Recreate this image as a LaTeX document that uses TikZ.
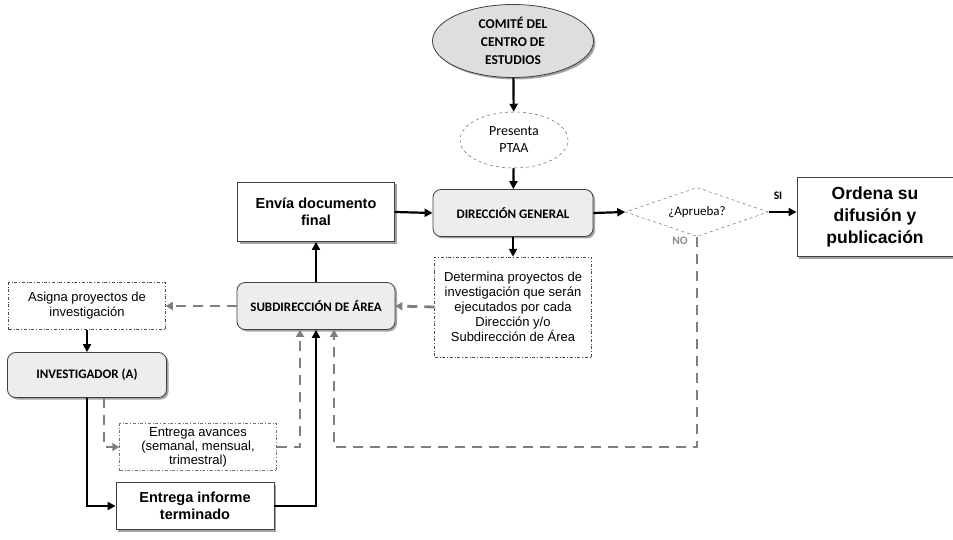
\documentclass[tikz,border=0pt]{standalone}
\usepackage{fontspec}
\setmainfont{Liberation Sans}
\newfontfamily\calfont{Carlito}
\usetikzlibrary{shapes.geometric,arrows.meta,shadows}
\definecolor{dgray}{HTML}{7F7F7F}
\begin{document}
\begin{tikzpicture}[x=1pt,y=-1pt,
  shad/.style={drop shadow={shadow xshift=2pt,shadow yshift=-2pt,fill=black!45,opacity=0.8}},
  rbox/.style={draw=black!75,line width=0.8pt,rounded corners=8pt,fill=black!7,shad,align=center,font=\calfont\bfseries\fontsize{13}{15}\selectfont,inner sep=0pt},
  sbox/.style={draw=black!75,line width=0.8pt,fill=white,shad,align=center,font=\bfseries\fontsize{14.5}{17}\selectfont,inner sep=0pt},
  dbox/.style={draw=black!70,line width=0.5pt,dash dot,fill=white,align=center,font=\fontsize{13}{15}\selectfont,inner sep=0pt},
  barr/.style={line width=2.2pt,-{Triangle[length=8pt,width=8pt]}},
  garr/.style={line width=2.8pt,draw=dgray,dash pattern=on 10pt off 7pt,-{Triangle[length=7pt,width=8pt,fill=dgray]}},
]
\useasboundingbox (0,0) rectangle (953,540);
% nodes
\node[ellipse,draw=black!75,line width=0.8pt,fill=black!13,shad,minimum width=161pt,minimum height=73pt,inner sep=0pt,align=center,font=\calfont\bfseries\fontsize{13.5}{18}\selectfont] (com) at (513,41) {COMITÉ DEL\\CENTRO DE\\ESTUDIOS};
\node[ellipse,draw=black!60,line width=0.5pt,dashed,fill=white,minimum width=108pt,minimum height=56pt,inner sep=0pt,align=center,font=\calfont\fontsize{14}{17}\selectfont] (pre) at (514,140) {Presenta\\PTAA};
\node[rbox,minimum width=160pt,minimum height=47pt] (dir) at (513,213) {DIRECCIÓN GENERAL};
\node[sbox,minimum width=157pt,minimum height=59pt] (env) at (316,212) {Envía documento\\final};
\node[dbox,minimum width=157pt,minimum height=100pt] (det) at (513,307) {Determina proyectos de\\investigación que serán\\ejecutados por cada\\Dirección y/o\\Subdirección de Área};
\node[rbox,minimum width=158pt,minimum height=47pt] (sub) at (316,306) {SUBDIRECCIÓN DE ÁREA};
\node[dbox,minimum width=157pt,minimum height=47pt] (asi) at (87,306) {Asigna proyectos de\\investigación};
\node[rbox,minimum width=159pt,minimum height=45pt] (inv) at (87,375) {INVESTIGADOR (A)};
\node[dbox,draw=black!55,minimum width=157pt,minimum height=47pt,font=\fontsize{13}{14}\selectfont] (ava) at (198,447) {Entrega avances\\(semanal, mensual,\\trimestral)};
\node[sbox,minimum width=158pt,minimum height=47pt] (ent) at (195,506) {Entrega informe\\terminado};
\node[diamond,aspect=2.9,draw=black!55,line width=0.5pt,dashed,fill=white,minimum width=143pt,minimum height=49pt,inner sep=0pt,font=\calfont\fontsize{13}{15}\selectfont] (apr) at (697,212) {¿Aprueba?};
\node[sbox,minimum width=156pt,minimum height=79pt,font=\bfseries\fontsize{17.5}{22}\selectfont] (ord) at (875,217) {Ordena su\\difusión y\\publicación};
\node[font=\calfont\bfseries\fontsize{11.5}{13}\selectfont] (si) at (778,196) {SI};
\node[font=\calfont\bfseries\fontsize{11.5}{13}\selectfont,text=black!45] (no) at (680,241) {NO};
% black connectors
\draw[barr] (com) -- (pre);
\draw[barr] (pre) -- (dir);
\draw[barr] (env.east) -- (dir.west);
\draw[barr] (dir.east) -- (apr.west);
\draw[barr] (apr.east) -- (apr.east -| ord.west);
\draw[barr] (dir.south) -- (det.north);
\draw[barr] (sub.north) -- (env.south);
\draw[barr] (asi.south) -- (inv.north);
\draw[barr] (inv.south) |- (ent.west);
\draw[barr] (ent.east) -| (sub.south);
% gray dashed connectors
\draw[garr] (det.west) -- (sub.east);
\draw[garr] (sub.west) -- (asi.east);
\draw[garr] ([xshift=17pt]inv.south) |- (ava.west);
\draw[garr] (ava.east) -| ([xshift=-16pt]sub.south);
\draw[garr] (apr.south) -- (apr.south |- ava.east) -| ([xshift=18pt]sub.south);
\end{tikzpicture}
\end{document}
